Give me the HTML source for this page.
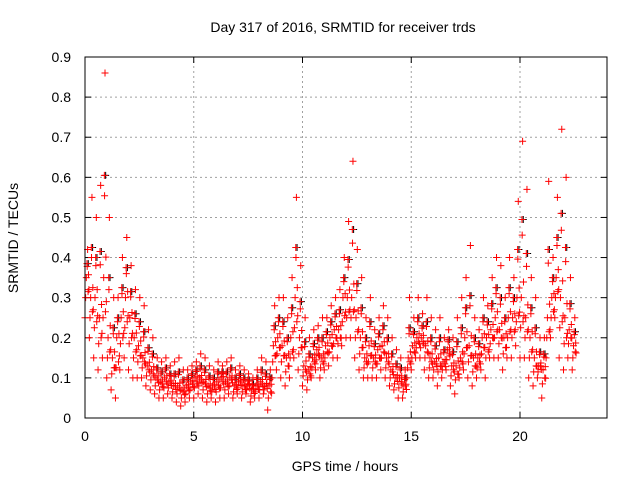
<!DOCTYPE html>
<html><head><meta charset="utf-8"><style>
body{margin:0;background:#fff;}
svg{font-family:"Liberation Sans",sans-serif;font-size:14px;}
</style></head><body>
<svg id="c" width="640" height="480" viewBox="0 0 640 480">
<rect width="640" height="480" fill="#fff"/>
<text x="343" y="32" text-anchor="middle">Day 317 of 2016, SRMTID for receiver trds</text>
<text x="345" y="471" text-anchor="middle">GPS time / hours</text>
<text transform="translate(18,238) rotate(-90)" text-anchor="middle">SRMTID / TECUs</text>
<g id="grid"></g><g id="marks"></g>
<rect x="85" y="57" width="522" height="361" fill="none" stroke="#000"/>
</svg>
<script>
const xTicks=[0,5,10,15,20];
const yTicks=[0,0.1,0.2,0.3,0.4,0.5,0.6,0.7,0.8,0.9];
const yTickLabels=["0","0.1","0.2","0.3","0.4","0.5","0.6","0.7","0.8","0.9"];
const tStart=0, tStep=0.2;
const lo=[0.25,0.2,0.15,0.12,0.15,0.1,0.07,0.05,0.12,0.15,0.12,0.1,0.1,0.1,0.08,0.07,0.06,0.05,0.05,0.06,0.05,0.04,0.03,0.04,0.05,0.05,0.06,0.05,0.04,0.05,0.04,0.05,0.05,0.06,0.05,0.06,0.05,0.06,0.04,0.05,0.05,0.06,0.02,0.1,0.12,0.1,0.08,0.1,0.15,0.12,0.08,0.07,0.1,0.12,0.1,0.12,0.13,0.15,0.15,0.18,0.2,0.2,0.15,0.12,0.1,0.1,0.1,0.1,0.12,0.1,0.08,0.07,0.05,0.05,0.1,0.12,0.15,0.15,0.12,0.1,0.1,0.08,0.1,0.12,0.08,0.06,0.1,0.12,0.1,0.08,0.1,0.12,0.1,0.15,0.15,0.15,0.12,0.15,0.15,0.18,0.15,0.15,0.1,0.08,0.1,0.05,0.15,0.2,0.25,0.15,0.12,0.15,0.12];
const mid=[0.35,0.3,0.3,0.25,0.35,0.2,0.15,0.2,0.25,0.3,0.25,0.2,0.18,0.15,0.13,0.12,0.1,0.09,0.1,0.09,0.08,0.08,0.07,0.08,0.09,0.1,0.1,0.09,0.08,0.08,0.09,0.1,0.09,0.1,0.08,0.09,0.08,0.08,0.07,0.08,0.09,0.08,0.08,0.18,0.2,0.18,0.15,0.2,0.3,0.2,0.13,0.12,0.15,0.17,0.15,0.18,0.2,0.22,0.22,0.3,0.3,0.3,0.25,0.2,0.15,0.18,0.15,0.17,0.18,0.15,0.12,0.1,0.1,0.08,0.15,0.18,0.2,0.2,0.18,0.15,0.14,0.15,0.14,0.17,0.13,0.13,0.15,0.2,0.18,0.15,0.15,0.2,0.2,0.22,0.25,0.22,0.2,0.25,0.25,0.3,0.3,0.25,0.2,0.15,0.13,0.12,0.25,0.3,0.35,0.3,0.25,0.22,0.18];
const hi=[0.42,0.55,0.5,0.58,0.86,0.5,0.3,0.3,0.4,0.45,0.38,0.32,0.3,0.28,0.22,0.2,0.15,0.14,0.15,0.13,0.14,0.15,0.12,0.12,0.13,0.14,0.16,0.15,0.13,0.12,0.14,0.13,0.14,0.15,0.12,0.13,0.12,0.11,0.1,0.12,0.15,0.14,0.12,0.28,0.3,0.3,0.25,0.35,0.55,0.38,0.25,0.2,0.22,0.23,0.25,0.25,0.28,0.3,0.32,0.4,0.49,0.64,0.42,0.35,0.25,0.3,0.22,0.25,0.28,0.25,0.2,0.17,0.15,0.12,0.3,0.25,0.3,0.26,0.3,0.25,0.22,0.25,0.2,0.22,0.2,0.25,0.3,0.35,0.43,0.25,0.22,0.3,0.28,0.35,0.4,0.38,0.3,0.4,0.35,0.54,0.69,0.57,0.35,0.3,0.2,0.2,0.59,0.4,0.55,0.72,0.6,0.35,0.25];
const NS="http://www.w3.org/2000/svg";
const X0=85,X1=607,XMAX=24,Y0=418,Y1=57,YMAX=0.9;
function xs(v){return X0+v/XMAX*(X1-X0);}
function ys(v){return Y0-v/YMAX*(Y0-Y1);}
const grid=document.getElementById('grid'),marks=document.getElementById('marks');
function mk(tag,attrs,parent){const e=document.createElementNS(NS,tag);for(const k in attrs)e.setAttribute(k,attrs[k]);parent.appendChild(e);return e;}
yTicks.forEach((v,i)=>{const y=ys(v);
 if(i>0&&i<yTicks.length-1){const g=mk('line',{x1:X0,x2:X1,y1:y,y2:y,stroke:'#a0a0a0','stroke-dasharray':'2,3'},grid);
 
 }
 mk('line',{x1:X0,x2:X0+6,y1:y,y2:y,stroke:'#000'},grid);
 mk('line',{x1:X1,x2:X1-6,y1:y,y2:y,stroke:'#000'},grid);
 const t=mk('text',{x:X0-14,y:y+5,'text-anchor':'end'},grid);t.textContent=yTickLabels[i];
 
 });
xTicks.forEach(v=>{const x=xs(v);
 if(v>0){const g=mk('line',{x1:x,x2:x,y1:Y0,y2:Y1,stroke:'#a0a0a0','stroke-dasharray':'2,3'},grid);
 
 }
 mk('line',{x1:x,x2:x,y1:Y0,y2:Y0-6,stroke:'#000'},grid);
 mk('line',{x1:x,x2:x,y1:Y1,y2:Y1+6,stroke:'#000'},grid);
 const t=mk('text',{x:x,y:Y0+23,'text-anchor':'middle'},grid);t.textContent=String(v);
 
 });
function cross(t,v,col,name){const x=xs(t),y=ys(v);
 const p=mk('path',{d:`M${x-3.5},${y}h7M${x},${y-3.5}v7`,stroke:col,'stroke-width':1,fill:'none'},marks);
 
 }
mid.forEach((m,i)=>{const t=tStart+i*tStep;
 cross(t+0.15,(m+hi[i])/2,'#000','black-point');});
lo.forEach((l,i)=>{const t=tStart+i*tStep,m=mid[i],h=hi[i];
 cross(t,l,'#f00','red-point');
 cross(t+0.03,(l+m)/2,'#f00','red-point');
 cross(t+0.06,m,'#f00','red-point');
 cross(t+0.09,(m+h)/2,'#f00','red-point');
 cross(t+0.12,h,'#f00','red-point');
 cross(t+0.14,(l+m)/2+0.015,'#f00','red-point');
 cross(t+0.16,m*0.9+h*0.1,'#f00','red-point');
 cross(t+0.18,m*0.7+l*0.3,'#f00','red-point');
 cross(t+0.1,m*0.6+h*0.4,'#f00','red-point');});
</script>
</body></html>
